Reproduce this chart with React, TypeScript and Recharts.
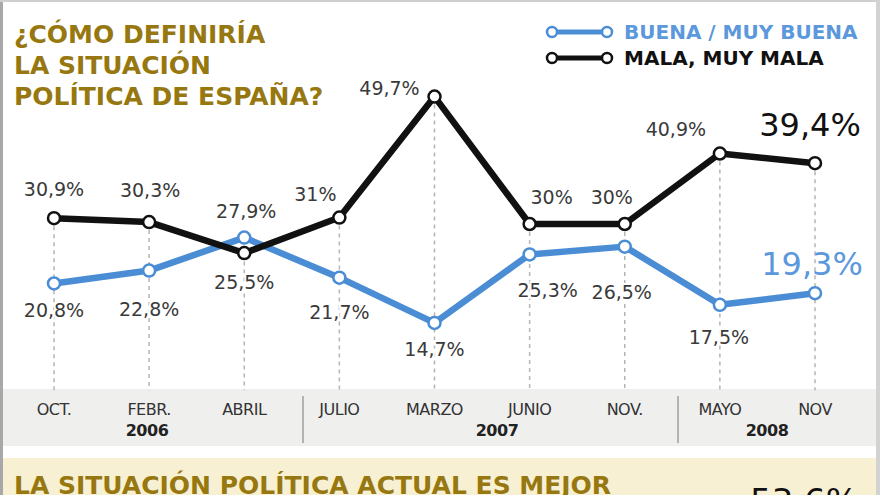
import React from 'react';
import { LineChart, Line, XAxis, YAxis, ReferenceLine, LabelList, Legend } from 'recharts';

const meses = ['OCT.', 'FEBR.', 'ABRIL', 'JULIO', 'MARZO', 'JUNIO', 'NOV.', 'MAYO', 'NOV'];
const buena = [20.8, 22.8, 27.9, 21.7, 14.7, 25.3, 26.5, 17.5, 19.3];
const mala = [30.9, 30.3, 25.5, 31, 49.7, 30, 30, 40.9, 39.4];
const anios = ['2006', '2007', '2008'];
const serieNombres = ['BUENA / MUY BUENA', 'MALA, MUY MALA'];
const titulo = ['¿CÓMO DEFINIRÍA', 'LA SITUACIÓN', 'POLÍTICA DE ESPAÑA?'];
const subtitulo = 'LA SITUACIÓN POLÍTICA ACTUAL ES MEJOR';
const subValor = '53,6%';

const data = meses.map((m, i) => ({ mes: m, buena: buena[i], mala: mala[i] }));

const AZUL = '#4a8dd4';
const NEGRO = '#111111';
const OLIVA = '#977810';
const FONT = '"DejaVu Sans", sans-serif';

const fmt = (v: number) => String(v).replace('.', ',') + '%';

const malaOff = [[0, -29], [1, -32], [0, 29], [-24, -24], [-45, -9], [22, -27], [-13, -27], [-44, -25], [-5, -38]];
const buenaOff = [[0, 27], [0, 38], [2, -27], [0, 34], [0, 26], [18, 36], [-3, 45], [-1, 32], [-3, -29]];

const makeLabel = (offs: number[][], bigColor: string) => (props: any) => {
  const { x, y, value, index } = props;
  const last = index === offs.length - 1;
  const [dx, dy] = offs[index];
  return (
    <text
      x={x + dx}
      y={y + dy}
      textAnchor="middle"
      dominantBaseline="central"
      fontFamily={FONT}
      fontSize={last ? 32 : 19}
      fill={last ? bigColor : '#3a3a3a'}
      stroke="#fff"
      strokeWidth={last ? 0 : 4}
      paintOrder="stroke"
    >
      {fmt(value)}
    </text>
  );
};

const Dot = (color: string) => (props: any) => {
  const { cx, cy, index } = props;
  return <circle key={index} cx={cx} cy={cy} r={6} fill="#fff" stroke={color} strokeWidth={2.5} />;
};

const Tick = (props: any) => {
  const { x, payload } = props;
  return (
    <text x={x} y={415} textAnchor="middle" fontFamily={FONT} fontSize={16} fill="#333" letterSpacing={-0.5}>
      {payload.value}
    </text>
  );
};

const LegendContent = () => {
  const colors = [AZUL, NEGRO];
  return (
    <div style={{ position: 'absolute', left: 0, top: 0 }}>
      {serieNombres.map((n, i) => (
        <div key={n} style={{ position: 'absolute', left: 543, top: 20 + i * 26, width: 335, height: 24 }}>
          <svg width={72} height={24} style={{ position: 'absolute', left: 0, top: 0 }}>
            <line x1={9} y1={12} x2={64} y2={12} stroke={colors[i]} strokeWidth={5} />
            <circle cx={9} cy={12} r={5} fill="#fff" stroke={colors[i]} strokeWidth={2.5} />
            <circle cx={64} cy={12} r={5} fill="#fff" stroke={colors[i]} strokeWidth={2.5} />
          </svg>
          <span
            style={{
              position: 'absolute',
              left: 81,
              top: 0,
              fontFamily: FONT,
              fontWeight: 'bold',
              fontSize: 20,
              lineHeight: '24px',
              color: i === 0 ? '#5b98dc' : '#111',
              whiteSpace: 'nowrap',
            }}
          >
            {n}
          </span>
        </div>
      ))}
    </div>
  );
};

export default function App() {
  const yearX = [147, 497, 767];
  const sepX = [302, 677];
  return (
    <div style={{ position: 'absolute', left: 0, top: 0, width: 880, height: 495, overflow: 'hidden', background: '#fff' }}>
      <div style={{ position: 'absolute', left: 0, top: 0, width: 3, height: 495, background: '#a8a8a8' }} />
      <div style={{ position: 'absolute', left: 0, top: 0, width: 880, height: 2, background: '#cfcfcf' }} />
      <div style={{ position: 'absolute', left: 876, top: 0, width: 4, height: 495, background: '#d2d2d2' }} />
      <div style={{ position: 'absolute', left: 3, top: 389, width: 873, height: 57, background: '#efefee' }} />
      {sepX.map((x) => (
        <div key={x} style={{ position: 'absolute', left: x, top: 396, width: 1.5, height: 47, background: '#b3b3b3' }} />
      ))}
      {anios.map((a, i) => (
        <div
          key={a}
          style={{
            position: 'absolute',
            left: yearX[i] - 40,
            top: 421,
            width: 80,
            textAlign: 'center',
            fontFamily: FONT,
            fontWeight: 'bold',
            fontSize: 16,
            lineHeight: '20px',
            color: '#222',
            letterSpacing: -0.5,
          }}
        >
          {a}
        </div>
      ))}
      <div style={{ position: 'absolute', left: 3, top: 458, width: 873, height: 40, background: '#f7f0d3' }} />
      <div
        style={{
          position: 'absolute',
          left: 14,
          top: 470,
          fontFamily: FONT,
          fontWeight: 'bold',
          fontSize: 25,
          lineHeight: '31px',
          color: OLIVA,
          whiteSpace: 'nowrap',
        }}
      >
        {subtitulo}
      </div>
      <div
        style={{
          position: 'absolute',
          left: 750,
          top: 481,
          fontFamily: FONT,
          fontSize: 34,
          lineHeight: '40px',
          color: '#111',
          whiteSpace: 'nowrap',
        }}
      >
        {subValor}
      </div>
      <div
        style={{
          position: 'absolute',
          left: 14,
          top: 19,
          fontFamily: FONT,
          fontWeight: 'bold',
          fontSize: 25,
          lineHeight: '31px',
          color: OLIVA,
          whiteSpace: 'nowrap',
        }}
      >
        {titulo.map((t) => (
          <div key={t}>{t}</div>
        ))}
      </div>
      <div style={{ position: 'absolute', left: 0, top: 0 }}>
        <LineChart width={880} height={495} data={data} margin={{ top: 30, right: 65, bottom: 0, left: 54 }}>
          <XAxis dataKey="mes" height={77} axisLine={false} tickLine={false} tick={<Tick />} interval={0} />
          <YAxis hide domain={[0, 60]} />
          {meses.map((m, i) => (
            <ReferenceLine
              key={m}
              segment={[
                { x: m, y: Math.max(buena[i], mala[i]) },
                { x: m, y: 4.3 },
              ]}
              stroke="#b5b5b5"
              strokeWidth={1.5}
              strokeDasharray="4 4"
            />
          ))}
          <Legend content={<LegendContent />} wrapperStyle={{ position: 'absolute', left: 0, top: 0, width: 880, height: 0 }} />
          <Line dataKey="buena" stroke={AZUL} strokeWidth={6.5} dot={Dot(AZUL)} isAnimationActive={false} strokeLinejoin="round">
            <LabelList dataKey="buena" content={makeLabel(buenaOff, '#5b98dc')} />
          </Line>
          <Line dataKey="mala" stroke={NEGRO} strokeWidth={6.5} dot={Dot(NEGRO)} isAnimationActive={false} strokeLinejoin="round">
            <LabelList dataKey="mala" content={makeLabel(malaOff, '#111')} />
          </Line>
        </LineChart>
      </div>
    </div>
  );
}
